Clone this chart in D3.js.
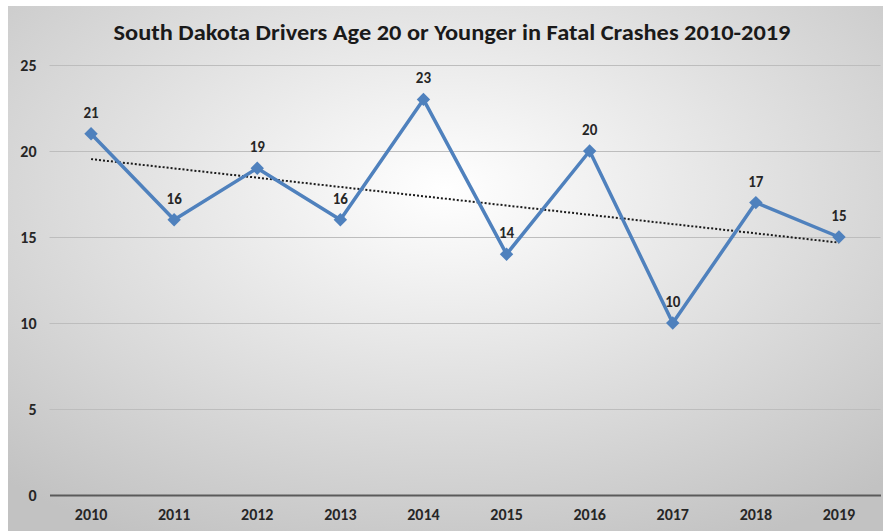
<!DOCTYPE html>
<html>
<head>
<meta charset="utf-8">
<script src="https://cdn.jsdelivr.net/npm/d3@7"></script>
<style>
  html, body { margin: 0; padding: 0; background: #fff; }
  svg { display: block; }
</style>
</head>
<body>
<svg id="chart"></svg>
<script>
const years = ["2010", "2011", "2012", "2013", "2014", "2015", "2016", "2017", "2018", "2019"];
const drivers = [21, 16, 19, 16, 23, 14, 20, 10, 17, 15];
const yTicks = [0, 5, 10, 15, 20, 25];
const title = "South Dakota Drivers Age 20 or Younger in Fatal Crashes 2010-2019";

const width = 883, height = 531;
const font = "Carlito, 'Liberation Sans Narrow', 'Open Sans', sans-serif";

const svg = d3.select("#chart").attr("width", width).attr("height", height);

// background gradient like the office chart area
const defs = svg.append("defs");
const grad = defs.append("radialGradient")
  .attr("id", "bg")
  .attr("cx", "50%").attr("cy", "35%").attr("r", "75%");
grad.append("stop").attr("offset", "0%").attr("stop-color", "#ffffff");
grad.append("stop").attr("offset", "100%").attr("stop-color", "#c2c2c2");

svg.append("rect")
  .attr("x", 8).attr("y", 6)
  .attr("width", width - 8).attr("height", height - 6)
  .attr("fill", "url(#bg)");

const margin = { left: 49.5, right: 2.5, top: 65, bottom: 36 };

const x = d3.scaleBand()
  .domain(years)
  .range([margin.left, width - margin.right]);

const y = d3.scaleLinear()
  .domain([0, 25])
  .range([height - margin.bottom, margin.top]);

// gridlines
svg.append("g")
  .selectAll("line")
  .data(yTicks.filter(d => d > 0))
  .join("line")
  .attr("x1", margin.left).attr("x2", width - margin.right)
  .attr("y1", d => Math.round(y(d)) + 0.5).attr("y2", d => Math.round(y(d)) + 0.5)
  .attr("stroke", "#bdbdbd").attr("stroke-width", 1);

// y axis labels
const yAxis = d3.axisLeft(y).tickValues(yTicks).tickSize(0).tickPadding(0);
const gy = svg.append("g")
  .attr("transform", `translate(${margin.left - 13},0)`)
  .call(yAxis);
gy.select(".domain").remove();
gy.selectAll("text")
  .attr("font-family", font).attr("font-size", 16).attr("font-weight", "bold")
  .attr("fill", "#262626");

// x axis
const xAxis = d3.axisBottom(x).tickSize(0).tickPadding(14);
const gx = svg.append("g")
  .attr("transform", `translate(0,${y(0)})`)
  .call(xAxis);
gx.select(".domain")
  .attr("stroke", "#5a5a5a").attr("stroke-width", 2.2);
gx.selectAll("text")
  .attr("font-family", font).attr("font-size", 16).attr("font-weight", "bold")
  .attr("fill", "#262626");

// linear trend line from the data
const n = drivers.length;
const xm = d3.mean(d3.range(n));
const ym = d3.mean(drivers);
const slope = d3.sum(drivers, (v, i) => (i - xm) * (v - ym)) / d3.sum(d3.range(n), i => (i - xm) ** 2);
const icpt = ym - slope * xm;
const cx = i => x(years[i]) + x.bandwidth() / 2;

svg.append("line")
  .attr("x1", cx(0)).attr("y1", y(icpt))
  .attr("x2", cx(n - 1)).attr("y2", y(icpt + slope * (n - 1)))
  .attr("stroke", "#1a1a1a").attr("stroke-width", 2)
  .attr("stroke-dasharray", "2,2");

// series line
const line = d3.line()
  .x((d, i) => cx(i))
  .y(d => y(d));

svg.append("path")
  .datum(drivers)
  .attr("d", line)
  .attr("fill", "none")
  .attr("stroke", "#4f81bd")
  .attr("stroke-width", 3.5)
  .attr("stroke-linejoin", "round");

// diamond markers
svg.append("g")
  .selectAll("path")
  .data(drivers)
  .join("path")
  .attr("d", d3.symbol().type(d3.symbolDiamond2).size(115))
  .attr("transform", (d, i) => `translate(${cx(i)},${y(d)})`)
  .attr("fill", "#4f81bd");

// data labels
svg.append("g")
  .selectAll("text")
  .data(drivers)
  .join("text")
  .attr("x", (d, i) => cx(i))
  .attr("y", d => y(d) - 16)
  .attr("text-anchor", "middle")
  .attr("font-family", font).attr("font-size", 15).attr("font-weight", "bold")
  .attr("fill", "#262626")
  .text(d => d);

// title
svg.append("text")
  .attr("x", 452).attr("y", 40)
  .attr("text-anchor", "middle")
  .attr("font-family", font).attr("font-size", 23).attr("font-weight", "bold")
  .attr("fill", "#1a1a1a")
  .attr("textLength", 677).attr("lengthAdjust", "spacingAndGlyphs")
  .text(title);
</script>
</body>
</html>
